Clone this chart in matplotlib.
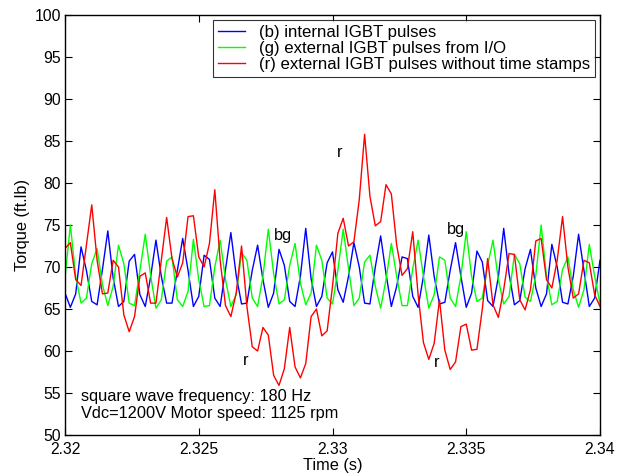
import numpy as np
import matplotlib
matplotlib.use("Agg")
import matplotlib.pyplot as plt

plt.rcParams['font.family'] = ['Liberation Sans', 'DejaVu Sans']

t_start = 2.32
t_step = 0.0002

blue = [66.9, 65.2, 66.8, 72.4, 69.6, 65.9, 65.5, 69.7, 74.3, 68.7,
        65.3, 65.9, 70.7, 71.5, 66.7, 65.3, 68.8, 73.2, 68.9, 65.7,
        65.7, 69.6, 73.4, 69.6, 65.3, 66.5, 71.4, 70.9, 66.3, 65.3,
        69.7, 74.1, 69.0, 65.6, 65.7, 69.6, 72.6, 68.5, 65.2, 66.9,
        72.1, 70.2, 65.9, 65.3, 68.9, 74.6, 68.6, 65.3, 66.5, 70.5,
        71.8, 67.3, 65.8, 68.9, 72.9, 70.0, 65.7, 65.6, 70.0, 73.7,
        69.2, 65.3, 67.7, 71.2, 71.0, 66.5, 65.2, 68.9, 73.8, 68.9,
        65.6, 65.8, 69.6, 72.9, 68.9, 65.2, 66.9, 71.9, 70.6, 66.0,
        65.3, 68.8, 74.6, 69.2, 65.5, 66.0, 69.8, 72.1, 67.5, 65.3,
        66.8, 72.7, 70.0, 65.8, 65.6, 68.9, 73.9, 69.6, 65.3, 66.3,
        70.8]

green = [68.7, 75.0, 68.9, 65.7, 66.3, 70.4, 72.2, 67.9, 65.4, 67.7,
         72.6, 70.4, 65.7, 65.4, 69.6, 73.9, 69.0, 65.1, 66.1, 70.7,
         71.2, 66.1, 65.3, 67.1, 73.3, 68.5, 65.3, 65.4, 70.0, 73.2,
         68.5, 65.3, 66.7, 71.7, 70.8, 66.3, 65.3, 68.9, 74.5, 69.2,
         65.6, 66.1, 70.2, 72.8, 68.1, 65.5, 66.9, 72.6, 70.8, 66.3,
         65.6, 69.6, 74.5, 69.8, 65.4, 66.3, 70.6, 71.4, 67.7, 65.1,
         68.5, 72.8, 68.9, 65.4, 65.4, 69.8, 73.2, 68.9, 65.1, 66.7,
         71.2, 70.8, 66.3, 65.3, 68.9, 74.2, 68.9, 65.9, 66.3, 70.2,
         73.2, 68.5, 65.6, 66.5, 71.5, 70.4, 66.4, 65.9, 69.0, 75.0,
         68.9, 65.5, 65.9, 69.7, 71.2, 67.3, 65.2, 67.3, 72.7, 68.9,
         65.6]

red = [72.2, 72.9, 68.5, 67.8, 72.6, 77.4, 70.8, 66.8, 66.9, 70.8,
       70.0, 64.3, 62.3, 64.1, 68.9, 69.3, 65.7, 65.7, 70.8, 75.9,
       71.0, 68.8, 70.5, 76.0, 76.1, 71.2, 70.0, 72.8, 79.2, 70.8,
       65.4, 64.1, 66.9, 72.5, 65.3, 60.5, 60.0, 62.8, 61.9, 57.1,
       55.9, 57.9, 62.8, 58.1, 56.8, 58.5, 64.1, 65.0, 61.8, 62.4,
       67.7, 74.0, 75.8, 72.5, 73.0, 78.0, 85.8, 78.4, 74.9, 75.4,
       79.8, 78.7, 72.6, 69.0, 69.8, 74.2, 66.7, 61.0, 59.0, 60.9,
       66.1, 60.1, 57.8, 58.7, 62.9, 63.2, 60.1, 60.2, 65.0, 71.0,
       65.5, 64.0, 67.3, 71.6, 71.5, 66.1, 64.9, 67.3, 73.1, 73.4,
       68.5, 67.5, 70.8, 76.0, 70.0, 66.3, 66.8, 70.8, 70.5, 66.7,
       65.3]

labels = ['(b) internal IGBT pulses',
          '(g) external IGBT pulses from I/O',
          '(r) external IGBT pulses without time stamps']
x_ticks = [2.32, 2.325, 2.33, 2.335, 2.34]
x_ticklabels = ['2.32', '2.325', '2.33', '2.335', '2.34']
y_ticks = [50, 55, 60, 65, 70, 75, 80, 85, 90, 95, 100]

t = t_start + t_step * np.arange(len(blue))

fig = plt.figure(figsize=(6.25, 4.74), dpi=100)
ax = fig.add_axes([0.104, 0.0823, 0.856, 0.886])

ax.plot(t, blue, color=(0, 0, 1), lw=1.0, label=labels[0])
ax.plot(t, green, color=(0, 1, 0), lw=1.0, label=labels[1])
ax.plot(t, red, color=(1, 0, 0), lw=1.0, label=labels[2])

ax.set_xlim(2.32, 2.34)
ax.set_ylim(50, 100)
ax.set_xticks(x_ticks)
ax.set_xticklabels(x_ticklabels)
ax.set_yticks(y_ticks)
ax.tick_params(direction='in', length=5, width=0.8, top=True, right=True,
               labelsize=11.3)
ax.tick_params(axis='x', pad=5)
ax.tick_params(axis='y', pad=3)
for s in ax.spines.values():
    s.set_linewidth(1.0)

fs = 11.8
ax.set_xlabel('Time (s)', fontsize=fs, labelpad=1)
ax.set_ylabel('Torque (ft.lb)', fontsize=fs, labelpad=3)

leg = ax.legend(loc='upper right', fontsize=12.1, frameon=True, fancybox=False,
                edgecolor='black', borderpad=0.3, labelspacing=0.05,
                handlelength=1.6, handletextpad=0.8, borderaxespad=0.3)
leg.get_frame().set_linewidth(0.8)

ax.text(2.33028, 83.6, 'r', fontsize=fs, ha='center', va='center')
ax.text(2.32815, 73.7, 'bg', fontsize=fs, ha='center', va='center')
ax.text(2.33462, 74.5, 'bg', fontsize=fs, ha='center', va='center')
ax.text(2.32677, 58.9, 'r', fontsize=fs, ha='center', va='center')
ax.text(2.33391, 58.6, 'r', fontsize=fs, ha='center', va='center')
ax.text(2.3206, 54.6, 'square wave frequency: 180 Hz', fontsize=fs, ha='left', va='center')
ax.text(2.3206, 52.5, 'Vdc=1200V Motor speed: 1125 rpm', fontsize=fs, ha='left', va='center')

fig.savefig('out.png', dpi=100)
